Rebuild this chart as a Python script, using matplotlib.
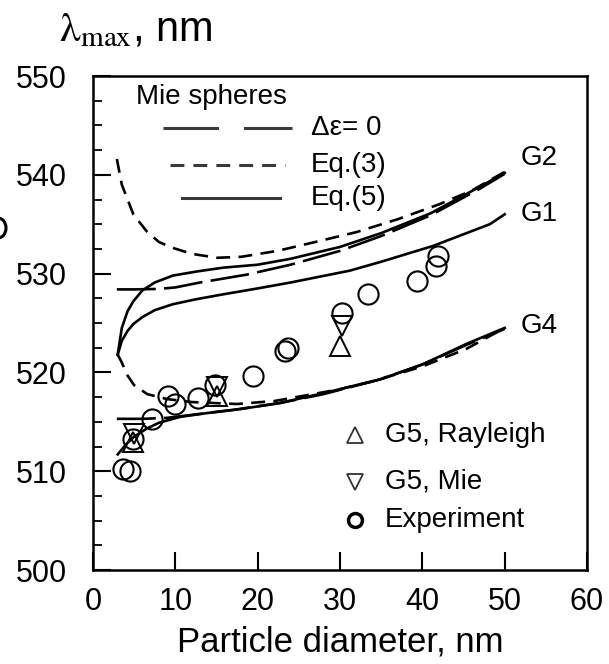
import matplotlib
matplotlib.use("Agg")
import matplotlib.pyplot as plt
from matplotlib.lines import Line2D
from matplotlib.patches import Arc

plt.rcParams['font.family'] = ['Liberation Sans', 'DejaVu Sans']
plt.rcParams['lines.scale_dashes'] = False

# ---------------- data ----------------
# G2 curves
g2_eq3_d = [2.9, 3.5, 4.9, 6.5, 8, 9.7, 12, 15.1, 18, 22.4, 27, 32, 37, 42, 46, 50]
g2_eq3_y = [541.6, 539.0, 536.0, 534.3, 533.2, 532.6, 532.0, 531.6, 531.7, 532.3, 533.2, 534.2, 535.5, 537.0, 538.4, 540.3]
g2_eq5_d = [3.0, 3.5, 4.2, 4.9, 6, 7.5, 9.7, 12.5, 15.8, 20, 24, 30, 35, 41, 47, 50]
g2_eq5_y = [521.8, 524.5, 526.2, 527.2, 528.3, 529.1, 529.8, 530.2, 530.6, 530.9, 531.5, 532.7, 534.1, 536.1, 538.8, 540.2]
g2_de0_d = [2.9, 5, 8, 10, 13, 18.7, 24, 30, 35, 41, 47, 50]
g2_de0_y = [528.4, 528.4, 528.45, 528.6, 529.1, 529.9, 530.9, 532.3, 533.8, 535.9, 538.6, 540.1]
# G1 curve
g1_eq5_d = [3.0, 3.5, 4.2, 4.9, 6, 7.5, 9.7, 12.5, 15.8, 20, 24, 31.2, 35, 41.3, 48.2, 50]
g1_eq5_y = [521.8, 523.2, 524.2, 524.9, 525.6, 526.3, 526.9, 527.4, 527.9, 528.5, 529.1, 530.3, 531.2, 532.8, 535.0, 536.0]
# G4 curves
g4_eq3_d = [3.0, 3.5, 4.1, 5, 6.6, 9, 12, 17.5, 22, 26.7, 30, 34, 40, 45.4, 50]
g4_eq3_y = [521.8, 521.0, 519.8, 518.7, 517.8, 517.3, 517.0, 516.8, 517.1, 517.8, 518.3, 519.1, 520.6, 522.4, 524.5]
g4_de0_d = [2.9, 6, 9, 12, 17, 22.7, 28, 34.9, 40, 45.4, 50]
g4_de0_y = [515.3, 515.3, 515.4, 515.7, 516.2, 516.9, 517.8, 519.3, 520.8, 522.8, 524.4]
g4_eq5_d = [3.0, 4, 5, 6.5, 8, 10.6, 14, 18, 22.7, 28, 34.9, 40, 45.4, 50]
g4_eq5_y = [511.7, 512.7, 513.5, 514.3, 514.9, 515.5, 515.9, 516.3, 516.9, 517.9, 519.3, 520.8, 522.9, 524.5]

# markers
exp_d = [3.7, 4.5, 4.8, 7.2, 9.1, 10.0, 12.8, 14.8, 19.4, 23.3, 23.7, 30.3, 33.4, 39.3, 41.6, 41.9]
exp_y = [510.2, 510.0, 513.3, 515.3, 517.6, 516.8, 517.4, 518.7, 519.6, 522.2, 522.5, 526.0, 527.9, 529.3, 530.8, 531.8]
g5_rayleigh_d = [4.8, 15.0, 30.0]
g5_rayleigh_y = [513.0, 517.6, 522.7]
g5_mie_d = [5.0, 15.0, 30.3]
g5_mie_y = [513.8, 518.5, 524.7]

curve_labels = ['G2', 'G1', 'G4']
curve_label_y = [541.7, 536.0, 524.7]

# ---------------- figure ----------------
fig = plt.figure(figsize=(6.09, 6.64), dpi=100)
ax = fig.add_axes([93/609, 1-570/664, 494/609, 494/664])

lw = 1.9
dash3 = (10, 6)
dash0 = (28, 6)
for d, y in [(g2_eq3_d, g2_eq3_y), (g4_eq3_d, g4_eq3_y)]:
    ax.plot(d, y, color='black', lw=lw, dashes=dash3)
for d, y in [(g2_de0_d, g2_de0_y), (g4_de0_d, g4_de0_y)]:
    ax.plot(d, y, color='black', lw=lw, dashes=dash0)
for d, y in [(g2_eq5_d, g2_eq5_y), (g1_eq5_d, g1_eq5_y), (g4_eq5_d, g4_eq5_y)]:
    ax.plot(d, y, color='black', lw=lw)

ms = 14.5
ax.plot(exp_d, exp_y, 'o', ms=ms, mfc='none', mec='black', mew=1.5)
ax.plot(g5_rayleigh_d, g5_rayleigh_y, '^', ms=ms, mfc='none', mec='black', mew=1.4)
ax.plot(g5_mie_d, g5_mie_y, 'v', ms=ms, mfc='none', mec='black', mew=1.4)

for lab, yy in zip(curve_labels, curve_label_y):
    ax.text(51.9, yy, lab, fontsize=20, va='center', ha='left')

ax.set_xlim(0, 60)
ax.set_ylim(500, 550)
ax.set_xticks(range(0, 61, 10))
ax.set_yticks(range(500, 551, 10))
ax.set_yticks([500 + 2.5 * i for i in range(21)], minor=True)
ax.tick_params(axis='both', which='major', direction='in', labelsize=22, width=1.5, color='black')
ax.tick_params(axis='y', which='major', length=13, pad=19)
ax.tick_params(axis='y', which='minor', direction='in', length=6.5, width=1.3, left=True)
ax.tick_params(axis='x', which='major', length=13, pad=12)
ax.tick_params(axis='x', which='minor', bottom=False)
for s in ax.spines.values():
    s.set_linewidth(1.8)
ax.set_xlabel('Particle diameter, nm', fontsize=25, labelpad=6)

# axis title (lambda_max)
fig.text(59/609, 1-41/664, r'$\mathrm{\lambda}_{\mathrm{max}}$, nm', fontsize=30,
         math_fontfamily='stix', ha='left', va='baseline')

# legend top-left
T = ax.transAxes
def ax_xy(px, py):
    return (px - 93) / 494, (570 - py) / 494

lc = '#3a3a3a'
fs = 20
x0, y0 = ax_xy(136, 97)
ax.text(x0, y0, 'Mie spheres', transform=T, fontsize=fs, va='center', ha='left')
xa, ya = ax_xy(163, 128); xb, _ = ax_xy(292, 128)
ax.add_line(Line2D([xa, xb], [ya, ya], transform=T, color=lc, lw=2.2, dashes=(40, 18)))
xt, _ = ax_xy(311, 128)
ax.text(xt, ya, 'Δε= 0', transform=T, fontsize=fs, va='center', ha='left')
xa, ya = ax_xy(170, 165); xb, _ = ax_xy(285, 165)
ax.add_line(Line2D([xa, xb], [ya, ya], transform=T, color=lc, lw=2.2, dashes=(10, 6.5)))
ax.text(xt, ya, 'Eq.(3)', transform=T, fontsize=fs, va='center', ha='left')
xa, ya = ax_xy(182, 198); xb, _ = ax_xy(280, 198)
ax.add_line(Line2D([xa, xb], [ya, ya], transform=T, color=lc, lw=2.2))
ax.text(xt, ya, 'Eq.(5)', transform=T, fontsize=fs, va='center', ha='left')

# legend bottom-right
mx, my = ax_xy(355, 435)
tx, _ = ax_xy(385, 435)
ax.plot([mx], [my], '^', transform=T, ms=11, mfc='none', mec='#333333', mew=1.3)
ax.text(tx, my, 'G5, Rayleigh', transform=T, fontsize=fs, va='center', ha='left')
_, my = ax_xy(355, 482)
ax.plot([mx], [my], 'v', transform=T, ms=11, mfc='none', mec='#333333', mew=1.3)
ax.text(tx, my, 'G5, Mie', transform=T, fontsize=fs, va='center', ha='left')
_, my = ax_xy(355, 520)
ax.plot([mx], [my], 'o', transform=T, ms=10, mfc='none', mec='black', mew=2.5)
ax.text(tx, my, 'Experiment', transform=T, fontsize=fs, va='center', ha='left')

# cropped glyph fragment at the left edge of the reference image
fig.add_artist(Arc((-2/609, 1-228/664), 16/609, 20/664, theta1=-90, theta2=90,
                   transform=fig.transFigure, color='black', lw=2.2))

fig.savefig('out.png', dpi=100)
